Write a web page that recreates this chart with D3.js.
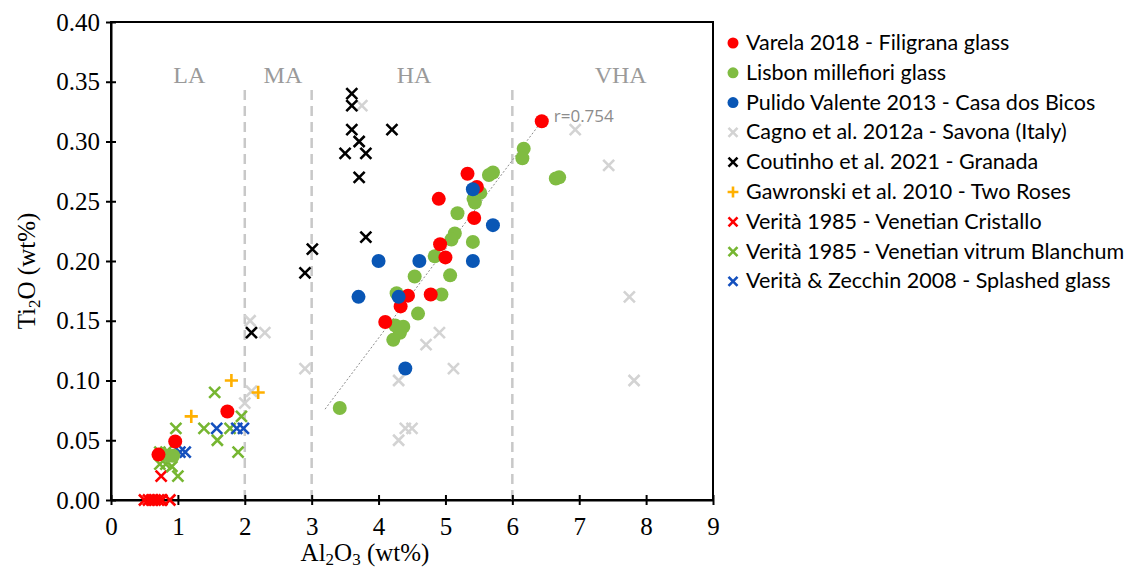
<!DOCTYPE html>
<html>
<head>
<meta charset="utf-8">
<script src="https://cdn.jsdelivr.net/npm/d3@7"></script>
<style>
  body { margin: 0; background: #fff; }
  svg { display: block; }
</style>
</head>
<body>
<svg id="chart" width="1129" height="573"></svg>
<script>
// series values: [Al2O3, Ti2O]
const varela = [[6.44, 0.317], [5.33, 0.273], [5.47, 0.262], [4.90, 0.252], [5.43, 0.236], [4.92, 0.214],
  [5.00, 0.203], [4.78, 0.172], [4.44, 0.171], [4.33, 0.162], [4.10, 0.149], [1.74, 0.074], [0.96, 0.049],
  [0.71, 0.038]];
const lisbon = [[6.17, 0.294], [6.15, 0.286], [5.71, 0.274], [5.65, 0.272], [6.70, 0.270], [6.65, 0.269],
  [5.52, 0.257], [5.42, 0.252], [5.44, 0.249], [5.18, 0.240], [5.14, 0.223], [5.09, 0.218], [5.41, 0.216],
  [4.84, 0.204], [4.54, 0.187], [5.07, 0.188], [4.27, 0.173], [4.94, 0.172], [4.59, 0.156], [4.25, 0.146],
  [4.37, 0.145], [4.32, 0.140], [4.22, 0.134], [3.42, 0.077], [0.78, 0.038], [0.86, 0.037], [0.93, 0.037]];
const pulido = [[5.41, 0.260], [5.71, 0.230], [5.41, 0.200], [4.61, 0.200], [4.00, 0.200], [4.30, 0.170],
  [3.70, 0.170], [4.40, 0.110]];
const cagno = [[6.94, 0.310], [7.44, 0.280], [7.75, 0.170], [7.82, 0.100], [3.75, 0.330], [4.91, 0.140],
  [4.71, 0.130], [5.12, 0.110], [4.30, 0.100], [4.30, 0.050], [4.40, 0.060], [4.50, 0.060], [2.08, 0.150],
  [2.30, 0.140], [2.90, 0.110], [2.10, 0.091], [2.00, 0.081]];
const coutinho = [[3.60, 0.340], [3.60, 0.330], [3.60, 0.310], [4.20, 0.310], [3.71, 0.300], [3.50, 0.290],
  [3.81, 0.290], [3.71, 0.270], [3.81, 0.220], [3.01, 0.210], [2.90, 0.190], [2.10, 0.140]];
const gawronski = [[1.80, 0.100], [2.20, 0.090], [1.20, 0.070]];
const cristallo = [[0.50, 0.000], [0.56, 0.000], [0.61, 0.000], [0.66, 0.000], [0.71, 0.000], [0.76, 0.000],
  [0.88, 0.000], [0.75, 0.020]];
const blanchum = [[1.55, 0.090], [0.97, 0.060], [1.39, 0.060], [1.78, 0.060], [1.95, 0.070], [1.59, 0.050],
  [1.90, 0.040], [0.73, 0.040], [0.82, 0.040], [0.73, 0.030], [0.82, 0.030], [0.91, 0.028], [1.00, 0.020]];
const zecchin = [[1.58, 0.060], [1.88, 0.060], [1.98, 0.060], [1.03, 0.040], [1.11, 0.040]];

const trend = [[3.2, 0.076], [6.44, 0.317]];
const boundaries = [2, 3, 6];
const zones = [["LA", 1.17], ["MA", 2.57], ["HA", 4.53], ["VHA", 7.62]];
const xTicks = [0, 1, 2, 3, 4, 5, 6, 7, 8, 9];
const yTicks = [0, 0.05, 0.10, 0.15, 0.20, 0.25, 0.30, 0.35, 0.40];

const series = [
  {name: "Varela 2018 - Filigrana glass", data: varela, shape: "circle", color: "#ff0000"},
  {name: "Lisbon millefiori glass", data: lisbon, shape: "circle", color: "#80bc42"},
  {name: "Pulido Valente 2013 - Casa dos Bicos", data: pulido, shape: "circle", color: "#0956b5"},
  {name: "Cagno et al. 2012a - Savona (Italy)", data: cagno, shape: "x", color: "#d3d3d3"},
  {name: "Coutinho et al. 2021 - Granada", data: coutinho, shape: "x", color: "#000000"},
  {name: "Gawronski et al. 2010 - Two Roses", data: gawronski, shape: "plus", color: "#ffb000"},
  {name: "Verità 1985 - Venetian Cristallo", data: cristallo, shape: "x", color: "#ff0000"},
  {name: "Verità 1985 - Venetian vitrum Blanchum", data: blanchum, shape: "x", color: "#76b631"},
  {name: "Verità & Zecchin 2008 - Splashed glass", data: zecchin, shape: "x", color: "#1450be"}
];

const svg = d3.select("#chart");
const mLeft = 111, mRight = 713, mTop = 22, mBottom = 500;
const x = d3.scaleLinear().domain([0, 9]).range([mLeft, mRight]);
const y = d3.scaleLinear().domain([0, 0.4]).range([mBottom, mTop]);
const serif = "'Liberation Serif', 'Times New Roman', serif";

// frame
svg.append("rect").attr("x", mLeft).attr("y", mTop).attr("width", mRight - mLeft).attr("height", mBottom - mTop)
  .attr("fill", "none").attr("stroke", "#000").attr("stroke-width", 2);

// zone boundaries
svg.selectAll(".bound").data(boundaries).enter().append("line")
  .attr("x1", d => x(d)).attr("x2", d => x(d))
  .attr("y1", y(0.343)).attr("y2", y(0))
  .attr("stroke", "#c8c8c8").attr("stroke-width", 2.5).attr("stroke-dasharray", "10,6");

svg.selectAll(".zone").data(zones).enter().append("text")
  .attr("x", d => x(d[1])).attr("y", y(0.349))
  .attr("text-anchor", "middle").style("font-family", serif).style("font-size", "24px")
  .attr("fill", "#9a9a9a").text(d => d[0]);

// axes
const xAxis = svg.append("g").attr("transform", `translate(0,${mBottom})`)
  .call(d3.axisBottom(x).tickValues(xTicks).tickSize(5).tickSizeOuter(0).tickFormat(d3.format("d")));
const yAxis = svg.append("g").attr("transform", `translate(${mLeft},0)`)
  .call(d3.axisLeft(y).tickValues(yTicks).tickSize(5).tickSizeOuter(0).tickFormat(d3.format(".2f")));
[xAxis, yAxis].forEach(g => {
  g.attr("font-family", null).attr("font-size", null);
  g.select(".domain").attr("stroke", "#000").attr("stroke-width", 2);
  g.selectAll(".tick line").attr("stroke", "#000").attr("stroke-width", 2);
  g.selectAll(".tick text").style("font-family", serif).style("font-size", "25px").attr("fill", "#000");
});
xAxis.selectAll(".tick line").attr("y1", -5).attr("y2", 5);
xAxis.selectAll(".tick text").attr("y", 12).attr("dy", "0.9em");
yAxis.selectAll(".tick line").attr("x1", -5).attr("x2", 5);
yAxis.selectAll(".tick text").attr("x", -11);

// axis titles
const xt = svg.append("text").attr("x", 365).attr("y", 561).attr("text-anchor", "middle")
  .style("font-family", serif).style("font-size", "25px");
xt.append("tspan").text("Al");
xt.append("tspan").style("font-size", "17px").attr("dy", 4).text("2");
xt.append("tspan").attr("dy", -4).text("O");
xt.append("tspan").style("font-size", "17px").attr("dy", 4).text("3");
xt.append("tspan").attr("dy", -4).text(" (wt%)");

const yt = svg.append("text").attr("transform", `translate(35,${(mTop + mBottom) / 2 + 10}) rotate(-90)`)
  .attr("text-anchor", "middle").style("font-family", serif).style("font-size", "25px");
yt.append("tspan").text("Ti");
yt.append("tspan").style("font-size", "17px").attr("dy", 5).text("2");
yt.append("tspan").attr("dy", -5).text("O (wt%)");

// trend line
svg.append("path").datum(trend)
  .attr("d", d3.line().x(d => x(d[0])).y(d => y(d[1])))
  .attr("stroke", "#8c8c8c").attr("stroke-width", 1).attr("stroke-dasharray", "2,2").attr("fill", "none");
svg.append("text").attr("x", x(6.44) + 12).attr("y", y(0.317) + 1)
  .style("font-family", "'Open Sans', sans-serif").style("font-size", "17px").attr("fill", "#8c8c8c").text("r=0.754");

// markers
function marker(g, shape, color, s) {
  if (shape === "circle") {
    g.append("circle").attr("r", s).attr("fill", color);
  } else if (shape === "x") {
    g.append("path").attr("d", `M${-s},${-s}L${s},${s}M${-s},${s}L${s},${-s}`)
      .attr("stroke", color).attr("stroke-width", 2.6).attr("fill", "none");
  } else {
    g.append("path").attr("d", `M${-s * 1.2},0H${s * 1.2}M0,${-s * 1.2}V${s * 1.2}`)
      .attr("stroke", color).attr("stroke-width", 2.6).attr("fill", "none");
  }
}

const order = [3, 4, 5, 6, 7, 8, 1, 0, 2];
order.forEach(i => {
  const s = series[i];
  svg.append("g").selectAll("g").data(s.data).enter().append("g")
    .attr("transform", d => `translate(${x(d[0])},${y(d[1])})`)
    .each(function () { marker(d3.select(this), s.shape, s.color, s.shape === "circle" ? 7 : 5.5); });
});

// legend
const legend = svg.append("g");
series.forEach((s, i) => {
  const row = legend.append("g").attr("transform", `translate(733,${43 + i * 29.8})`);
  marker(row, s.shape, s.color, s.shape === "circle" ? 5.5 : 4.5);
  row.append("text").attr("x", 13).attr("y", 7)
    .style("font-family", "Lato, 'Open Sans', sans-serif").style("font-size", "21.5px").attr("fill", "#000").text(s.name);
});
</script>
</body>
</html>
